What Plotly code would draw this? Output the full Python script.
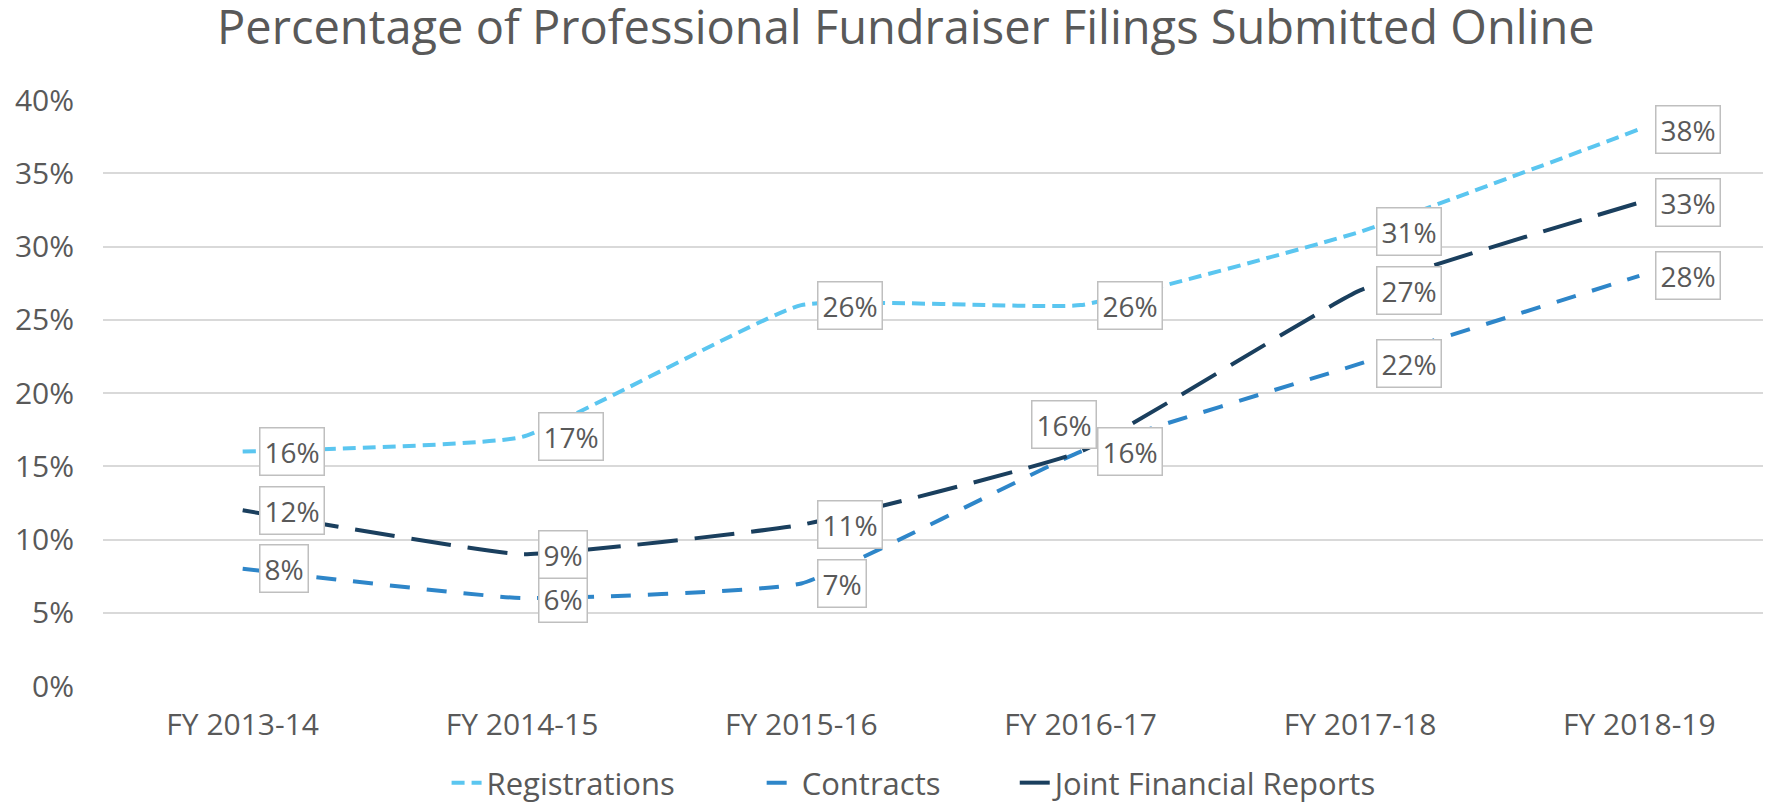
import plotly.graph_objects as go

categories = ["FY 2013-14", "FY 2014-15", "FY 2015-16", "FY 2016-17", "FY 2017-18", "FY 2018-19"]
registrations = [0.16, 0.17, 0.26, 0.26, 0.31, 0.38]
contracts = [0.08, 0.06, 0.07, 0.16, 0.22, 0.28]
joint_reports = [0.12, 0.09, 0.11, 0.16, 0.27, 0.33]
series_names = ["Registrations", "Contracts", "Joint Financial Reports"]
y_ticks = [0, 0.05, 0.10, 0.15, 0.20, 0.25, 0.30, 0.35, 0.40]

colors = ["#5BC6F0", "#2E86C9", "#1A3F5E"]
dashes = ["13px,7px", "20px,17px", "40px,17px"]
legend_ids = ["legend", "legend2", "legend3"]
legend_x = [0.205, 0.393, 0.544]
TEXT = "#595959"
FONT = "Open Sans"

fig = go.Figure()
for name, vals, col, dash, lg in zip(series_names, [registrations, contracts, joint_reports], colors, dashes, legend_ids):
    fig.add_trace(go.Scatter(
        x=categories, y=vals, name=name, mode="lines", legend=lg, showlegend=True,
        line=dict(color=col, width=4, dash=dash, shape="spline", smoothing=0.35),
        hoverinfo="skip",
    ))

# data labels
annotations = []
for si, vals in enumerate([registrations, contracts, joint_reports]):
    for ci, v in enumerate(vals):
        special = (si == 2 and ci == 3)
        annotations.append(dict(
            x=categories[ci], y=v, xref="x", yref="y",
            text=f"{round(v*100)}%", showarrow=False,
            xanchor="right" if special else "left",
            yanchor="bottom" if special else "middle",
            xshift=16, yshift=3 if special else 0,
            font=dict(family=FONT, size=28, color=TEXT),
            bgcolor="white", bordercolor="#BFBFBF", borderwidth=1.5, borderpad=4,
        ))

legend_common = dict(orientation="h", xanchor="left", y=-0.166, yanchor="middle",
                     font=dict(family=FONT, size=31, color=TEXT), itemwidth=30,
                     bgcolor="rgba(0,0,0,0)")

fig.update_layout(
    width=1771, height=802,
    margin=dict(l=95, r=0, t=92, b=119),
    paper_bgcolor="white", plot_bgcolor="white",
    showlegend=True,
    title=dict(text="Percentage of Professional Fundraiser Filings Submitted Online",
               x=0.507, xanchor="center", y=1 - 3 / 802, yanchor="top", yref="container",
               font=dict(family=FONT, size=47, color=TEXT)),
    font=dict(family=FONT, color=TEXT),
    xaxis=dict(range=[-0.5, 5.5], showgrid=False, showline=False, zeroline=False, ticks="",
               tickfont=dict(family=FONT, size=30, color=TEXT), ticklabelstandoff=18,
               automargin=False),
    yaxis=dict(range=[0, 0.4], tickvals=y_ticks, tickformat=".0%", showgrid=True,
               gridcolor="#D9D9D9", gridwidth=1.5, zeroline=False, showline=False,
               tickfont=dict(family=FONT, size=30, color=TEXT), ticklabelstandoff=28,
               automargin=False),
    legend=dict(x=legend_x[0], **legend_common),
    legend2=dict(x=legend_x[1], **legend_common),
    legend3=dict(x=legend_x[2], **legend_common),
    annotations=annotations,
)

fig.write_html("out.html")
